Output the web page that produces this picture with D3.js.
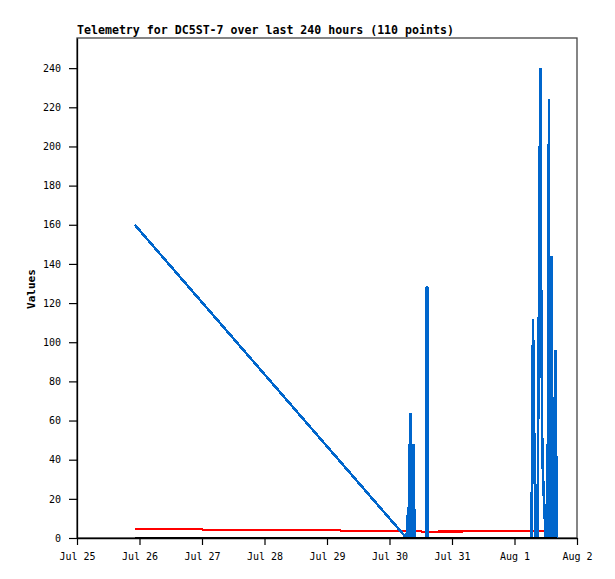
<!DOCTYPE html>
<html>
<head>
<meta charset="utf-8">
<script src="https://cdn.jsdelivr.net/npm/d3@7"></script>
<style>
  body { margin: 0; background: #fff; }
  svg { display: block; }
  text { font-family: "DejaVu Sans Mono", "Liberation Mono", monospace; }
</style>
</head>
<body>
<svg id="chart"></svg>
<script>
// data (times in UTC)
var title = "Telemetry for DC5ST-7 over last 240 hours (110 points)";
var yTicks = [0, 20, 40, 60, 80, 100, 120, 140, 160, 180, 200, 220, 240];

var blueTimes = [
  "07-25 22:10", "07-30 06:32", "07-30 07:13", "07-30 07:25", "07-30 07:41",
  "07-30 07:57", "07-30 08:11", "07-30 08:24", "07-30 08:43", "07-30 09:01",
  "07-30 09:15", "07-30 09:36", "07-30 14:12", "07-30 14:19", "07-30 14:31",
  "07-30 14:38", "08-01 06:32", "08-01 07:06", "08-01 07:41", "08-01 08:04",
  "08-01 08:50", "08-01 09:18", "08-01 09:54", "08-01 10:15", "08-01 10:41",
  "08-01 10:54", "08-01 11:10", "08-01 11:29", "08-01 11:47", "08-01 12:03",
  "08-01 12:20", "08-01 12:38", "08-01 12:52", "08-01 13:13", "08-01 13:24",
  "08-01 13:36", "08-01 13:49", "08-01 14:10", "08-01 14:24", "08-01 14:38",
  "08-01 14:52", "08-01 15:05", "08-01 15:22", "08-01 15:47", "08-01 16:12"
];
var blueValues = [
  160, 0, 16, 0, 48,
  0, 64, 0, 36, 0,
  48, 0, 0, 128, 128,
  0, 0, 112, 40, 0,
  0, 104, 240, 128, 43,
  34, 24, 15, 5, 0,
  0, 48, 0, 224, 0,
  72, 0, 144, 0, 72,
  0, 48, 0, 96, 0
];

var redTimes = [
  "07-25 22:10", "07-27 00:10", "07-27 00:20", "07-29 05:00", "07-29 05:10",
  "07-30 09:45", "07-30 10:00", "07-30 12:10", "07-30 12:25", "07-30 18:35",
  "07-30 18:50", "07-31 04:00", "07-31 04:15", "08-01 16:12"
];
var redValues = [4.5, 4.5, 4.0, 4.0, 3.6, 3.6, 3.4, 3.4, 2.9, 2.9, 3.3, 3.3, 3.7, 3.7];

var blackTimes = ["07-25 22:10", "08-01 16:12"];
var blackValues = [0, 0];

var parseTime = d3.utcParse("%Y-%m-%d %H:%M");
function toPoints(times, values) {
  return times.map(function(t, i) { return [parseTime("2021-" + t), values[i]]; });
}

var svg = d3.select("#chart")
    .attr("width", 615)
    .attr("height", 579);

var plotLeft = 77, plotRight = 577, plotTop = 38, plotBottom = 538;

var xScale = d3.scaleUtc()
    .domain([parseTime("2021-07-25 00:00"), parseTime("2021-08-02 00:00")])
    .range([plotLeft, plotRight]);
var yScale = d3.scaleLinear().domain([0, 255.4]).range([plotBottom, plotTop]);

svg.append("rect")
    .attr("width", 615).attr("height", 579)
    .style("fill", "#fff");

// frame
svg.append("rect")
    .attr("x", plotLeft).attr("y", plotTop)
    .attr("width", plotRight - plotLeft).attr("height", plotBottom - plotTop)
    .style("fill", "none")
    .style("stroke", "#444")
    .style("stroke-width", 1.3);

svg.append("text")
    .attr("x", plotLeft)
    .attr("y", 34)
    .style("font-size", "11.6px")
    .style("font-weight", "bold")
    .text(title);

// Y label
svg.append("text")
    .attr("text-anchor", "middle")
    .attr("transform", "translate(35,289)rotate(-90)")
    .style("font-size", "11px")
    .style("font-weight", "bold")
    .text("Values");

var xAxis = svg.append("g")
    .attr("transform", "translate(0," + plotBottom + ")")
    .call(d3.axisBottom(xScale)
        .ticks(d3.utcDay.every(1))
        .tickFormat(d3.utcFormat("%b %-d"))
        .tickSize(7)
        .tickSizeOuter(0));
xAxis.selectAll("text").attr("y", 22).attr("dy", null)
    .style("font-size", "10px").style("fill", "#000");

var yAxis = svg.append("g")
    .attr("transform", "translate(" + plotLeft + ",0)")
    .call(d3.axisLeft(yScale)
        .tickValues(yTicks)
        .tickSize(8)
        .tickPadding(8)
        .tickSizeOuter(0));
yAxis.selectAll("text").style("font-size", "10px").style("fill", "#000");

svg.selectAll(".domain").style("stroke", "#000").style("stroke-width", 1.3);
svg.selectAll(".tick line").style("stroke", "#000").style("stroke-width", 1.2);

var line = d3.line()
    .x(function(d) { return xScale(d[0]); })
    .y(function(d) { return yScale(d[1]); });

var series = [
  { pts: toPoints(redTimes, redValues), color: "#ff0000", width: 2.2 },
  { pts: toPoints(blueTimes, blueValues), color: "#0066cc", width: 2.6 },
  { pts: toPoints(blackTimes, blackValues), color: "#000000", width: 2.2 }
];

series.forEach(function(s) {
  svg.append("path")
      .datum(s.pts)
      .attr("class", "line")
      .attr("d", line)
      .style("fill", "none")
      .style("stroke", s.color)
      .style("stroke-width", s.width)
      .style("stroke-linejoin", "miter")
      .style("stroke-miterlimit", 1)
      .style("shape-rendering", "crispEdges");
});
</script>
</body>
</html>
